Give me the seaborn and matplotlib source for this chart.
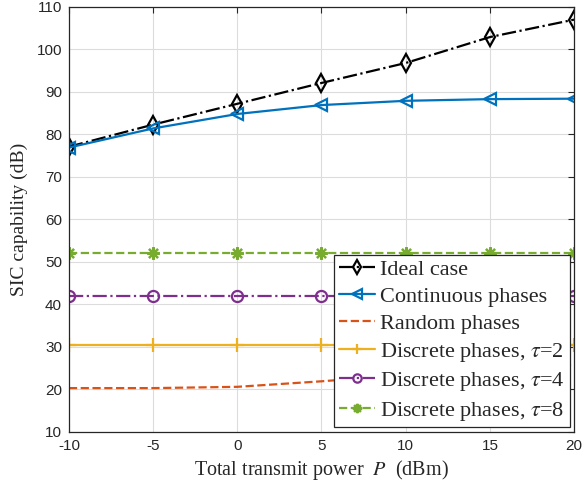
import matplotlib
matplotlib.use("Agg")
import matplotlib.pyplot as plt
import seaborn as sns
import pandas as pd

# Transmit power sweep (dBm)
power_dbm = [-10, -5, 0, 5, 10, 15, 20]

# SIC capability (dB) for each scheme
ideal_case = [77.1, 82.3, 87.2, 92.1, 96.8, 102.9, 107.0]
continuous_phases = [76.9, 81.4, 84.8, 86.9, 87.9, 88.3, 88.4]
random_phases = [20.3, 20.3, 20.6, 21.9, 23.4, 24.8, 25.8]
discrete_tau2 = [30.5, 30.5, 30.5, 30.5, 30.5, 30.5, 30.5]
discrete_tau4 = [42.0, 42.0, 42.0, 42.0, 42.0, 42.0, 42.0]
discrete_tau8 = [52.2, 52.2, 52.2, 52.2, 52.2, 52.2, 52.2]

series_labels = [
    "Ideal case",
    "Continuous phases",
    "Random phases",
    r"Discrete phases, $\tau$=2",
    r"Discrete phases, $\tau$=4",
    r"Discrete phases, $\tau$=8",
]
x_ticks = [-10, -5, 0, 5, 10, 15, 20]
y_ticks = [10, 20, 30, 40, 50, 60, 70, 80, 90, 100, 110]

sns.set_theme(style="white")
plt.rcParams["mathtext.fontset"] = "stix"
plt.rcParams["font.family"] = ["DejaVu Sans"]

fig = plt.figure(figsize=(5.84, 4.93), dpi=100)
ax = fig.add_axes([0.118, 0.124, 0.865, 0.862])

styles = [
    dict(color="black", linestyle="-.", marker="d", markersize=9),
    dict(color="#0072BD", linestyle="-", marker="<", markersize=9),
    dict(color="#D95319", linestyle="--", marker=None),
    dict(color="#EDB120", linestyle="-", marker="+", markersize=10),
    dict(color="#7E2F8E", linestyle="-.", marker="o", markersize=8),
    dict(color="#77AC30", linestyle="--", marker=(8, 2, 0), markersize=9),
]
data = [ideal_case, continuous_phases, random_phases,
        discrete_tau2, discrete_tau4, discrete_tau8]

for values, label, st in zip(data, series_labels, styles):
    df = pd.DataFrame({"P": power_dbm, "SIC": values})
    kw = dict(color=st["color"], linestyle=st["linestyle"], linewidth=1.6,
              label=label)
    if st["marker"] is not None:
        kw.update(marker=st["marker"], markersize=st["markersize"],
                  markerfacecolor="none", markeredgecolor=st["color"],
                  markeredgewidth=1.6)
    sns.lineplot(data=df, x="P", y="SIC", ax=ax, **kw)

ax.set_xlim(-10, 20)
ax.set_ylim(10, 110)
ax.set_xticks(x_ticks)
ax.set_yticks(y_ticks)
ax.set_xticklabels([str(t) for t in x_ticks], family="Liberation Sans", fontsize=11)
ax.set_yticklabels([str(t) for t in y_ticks], family="Liberation Sans", fontsize=11)
ax.tick_params(direction="in", top=True, right=True, length=4, width=0.8,
               color="#262626", labelcolor="#262626", pad=5)
ax.grid(True, color="#dcdcdc", linewidth=0.8)
for s in ax.spines.values():
    s.set_color("#262626")
    s.set_linewidth(0.9)

ax.set_xlabel(r"Total transmit power  $P$  (dBm)", family="Liberation Serif",
              fontsize=14.5, color="#262626", labelpad=4)
ax.set_ylabel("SIC capability (dB)", family="Liberation Serif",
              fontsize=14, color="#262626", labelpad=6)

leg = ax.legend(loc="lower right", prop={"family": "Liberation Serif", "size": 16},
                frameon=True, fancybox=False, handlelength=1.6,
                handletextpad=0.25, labelspacing=0.29, borderpad=0.22,
                borderaxespad=0.2, edgecolor="#262626", framealpha=1,
                markerscale=0.75)
leg.get_frame().set_linewidth(0.9)

fig.savefig("out.png", dpi=100)
